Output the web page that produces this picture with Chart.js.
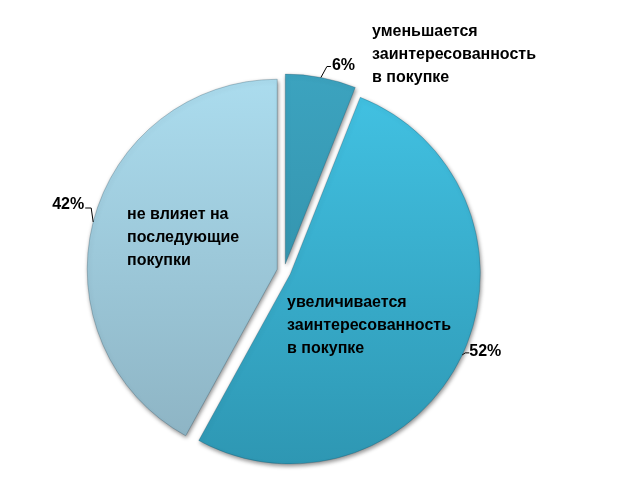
<!DOCTYPE html>
<html>
<head>
<meta charset="utf-8">
<script src="https://cdn.jsdelivr.net/npm/chart.js@4"></script>
<style>
  html, body { margin: 0; padding: 0; background: #fff; }
  #wrap { width: 637px; height: 499px; }
</style>
</head>
<body>
<div id="wrap"><canvas id="myChart"></canvas></div>
<script>
const labels = [
  ['уменьшается', 'заинтересованность', 'в покупке'],
  ['увеличивается', 'заинтересованность', 'в покупке'],
  ['не влияет на', 'последующие', 'покупки']
];
const values = [6, 52, 42];
const percentLabels = ['6%', '52%', '42%'];

// gradient colours per slice (top, bottom)
const colorsTop = ['#3ca3bf', '#42c2e3', '#abdcee'];
const colorsBottom = ['#2d88a0', '#2e97b3', '#8cb2c2'];

// where the category text sits, relative to the pie centre
const textOffsets = [[88, -239], [3, 32], [-157, -56]];

const font = 'bold 16px "Liberation Sans", Arial, sans-serif';
const explode = 7; // px the slices are pulled out
const pieRadius = 190;

function gradientFor(ctx) {
  const chart = ctx.chart;
  const area = chart.chartArea;
  if (!area) return colorsTop[ctx.dataIndex];
  const cy = (area.top + area.bottom) / 2;
  const g = chart.ctx.createLinearGradient(0, cy - pieRadius, 0, cy + pieRadius);
  g.addColorStop(0, colorsTop[ctx.dataIndex]);
  g.addColorStop(1, colorsBottom[ctx.dataIndex]);
  return g;
}

// pulls every slice out along its middle angle, keeping its radius
// (the built-in "offset" also grows the slice, which the original doesn't do)
const explodePlugin = {
  id: 'explode',
  beforeDatasetDraw(chart) {
    const c = chart.ctx;
    chart.getDatasetMeta(0).data.forEach(arc => {
      if (arc._exploded) return;
      const orig = arc.draw;
      arc.draw = function(ctx, area) {
        const mid = (this.startAngle + this.endAngle) / 2;
        ctx.save();
        ctx.translate(Math.cos(mid) * explode, Math.sin(mid) * explode);
        orig.call(this, ctx, area);
        ctx.restore();
      };
      arc._exploded = true;
    });
    c.save();
    c.shadowColor = 'rgba(0,0,0,0.45)';
    c.shadowBlur = 4;
    c.shadowOffsetX = 1;
    c.shadowOffsetY = 2;
  },
  afterDatasetDraw(chart) {
    chart.ctx.restore();
  }
};

const labelPlugin = {
  id: 'pieLabels',
  afterDatasetsDraw(chart) {
    const c = chart.ctx;
    const meta = chart.getDatasetMeta(0);
    c.save();
    c.font = font;
    c.fillStyle = '#000';
    c.strokeStyle = '#000';
    c.lineWidth = 1;
    c.textBaseline = 'middle';
    meta.data.forEach((arc, i) => {
      const cx = arc.x, cy = arc.y;
      const mid = (arc.startAngle + arc.endAngle) / 2;
      const r = arc.outerRadius + explode;
      const ax = cx + Math.cos(mid) * r;
      const ay = cy + Math.sin(mid) * r;
      // category text
      const [tx, ty] = textOffsets[i];
      labels[i].forEach((line, k) => {
        c.textAlign = 'left';
        c.fillText(line, cx + tx, cy + ty + k * 23);
      });
      // leader line + percent
      c.beginPath();
      c.moveTo(ax, ay);
      let px, py;
      if (i === 0) {
        c.lineTo(ax + 6, ay - 11);
        c.lineTo(ax + 10, ay - 11);
        px = ax + 11; py = ay - 12;
        c.textAlign = 'left';
      } else if (i === 1) {
        c.lineTo(ax + 3, ay - 2);
        c.lineTo(ax + 7, ay - 2);
        px = ax + 7; py = ay - 3;
        c.textAlign = 'left';
      } else {
        c.lineTo(ax - 2, ay - 14);
        c.lineTo(ax - 8, ay - 14);
        px = ax - 9; py = ay - 17;
        c.textAlign = 'right';
      }
      c.stroke();
      c.fillText(percentLabels[i], px, py);
    });
    c.restore();
  }
};

const ctx = document.getElementById('myChart').getContext('2d');
const myChart = new Chart(ctx, {
  type: 'pie',
  data: {
    labels: labels.map(l => l.join(' ')),
    datasets: [{
      data: values,
      backgroundColor: gradientFor,
      borderColor: 'rgba(20,60,80,0.25)',
      borderWidth: 1,
      radius: pieRadius
    }]
  },
  options: {
    responsive: true,
    maintainAspectRatio: false,
    animation: false,
    radius: pieRadius,
    layout: { padding: { left: 0, right: 69, top: 43, bottom: 0 } },
    plugins: {
      legend: { display: false },
      tooltip: { enabled: false }
    }
  },
  plugins: [explodePlugin, labelPlugin]
});
</script>
</body>
</html>
